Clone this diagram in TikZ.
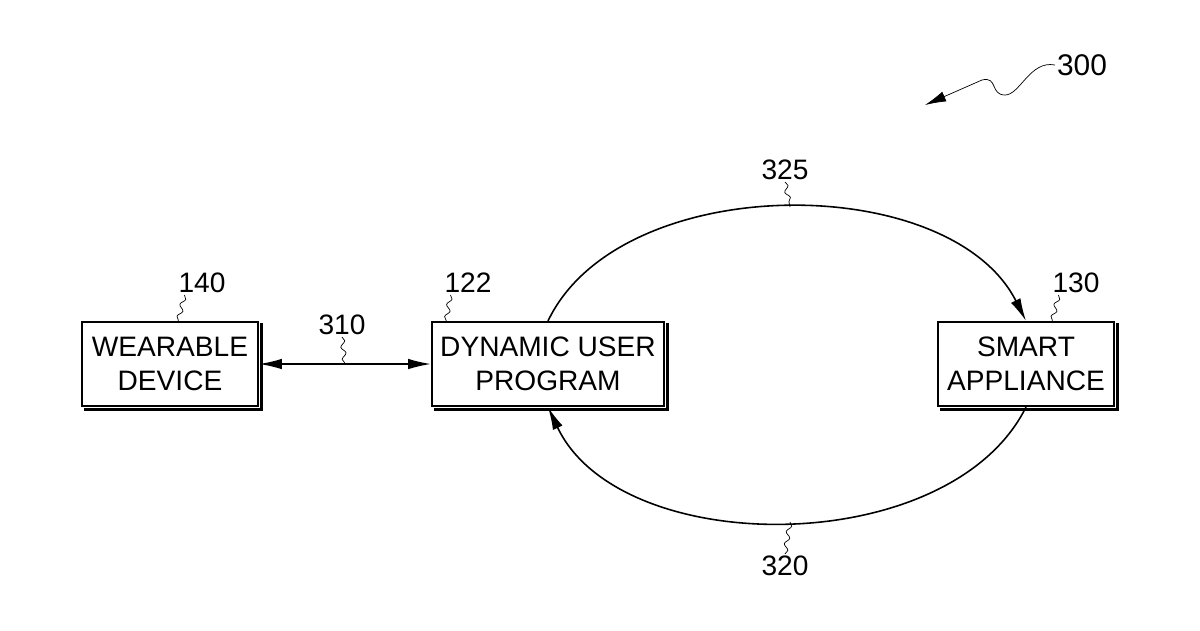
\documentclass[tikz,border=0pt]{standalone}
\usepackage{fontspec}
\setmainfont{Liberation Sans}
\usetikzlibrary{arrows.meta,decorations.pathmorphing,calc}

\tikzset{
    block/.style={draw=black, line width=1.2pt, minimum width=176\pgfxx, minimum height=84\pgfyy,
        align=center, inner sep=0pt, font=\fontsize{16}{19}\selectfont},
    numlbl/.style={font=\fontsize{16}{19}\selectfont, inner sep=1pt},
    squig/.style={draw, thin, decorate, decoration={snake, amplitude=1.3pt, segment length=7pt}},
    link/.style={draw, line width=0.9pt, -{Latex[length=13pt,width=6pt]}},
}
\newlength{\pgfxx}\setlength{\pgfxx}{0.02cm}
\newlength{\pgfyy}\setlength{\pgfyy}{0.02cm}

\begin{document}
\begin{tikzpicture}[x=0.02cm, y=-0.02cm]
            \useasboundingbox (0,0) rectangle (1200,630);

            % boxes
            \node[block] (wd) at (170,364) {WEARABLE\\DEVICE};
            \node[block, minimum width=232\pgfxx] (dup) at (548,364) {DYNAMIC USER\\PROGRAM};
            \node[block] (sa) at (1026,364) {SMART\\APPLIANCE};
            % shadow edges
            \foreach \b in {wd,dup,sa} {
                \draw[line width=1.4pt] ([xshift=2pt,yshift=-1.5pt]\b.south west) -- ([xshift=1.5pt,yshift=-1.5pt]\b.south east) -- ([xshift=1.5pt,yshift=-1pt]\b.north east);
            }

            % reference numbers
            \node[numlbl] (n140) at (202,283) {140};
            \node[numlbl] (n122) at (468,283) {122};
            \node[numlbl] (n130) at (1076,283) {130};
            \node[numlbl] (n310) at (342,325) {310};
            \node[numlbl] (n325) at (785,170) {325};
            \node[numlbl] (n320) at (785,566) {320};
            \node[numlbl, font=\fontsize{17}{20}\selectfont] (n300) at (1082,65) {300};

            \coordinate (t140) at (178,322);
            \coordinate (t122) at (446,322);
            \coordinate (t130) at (1052,322);
            \coordinate (t310) at (345,364);
            \coordinate (t325) at (790,207);
            \coordinate (t320) at (790,522);
            \coordinate (t300) at (925,105);

            \path[squig] (n140.south west) ++(8,0) -- (t140);
            \path[squig] (n122.south west) ++(8,0) -- (t122);
            \path[squig] (n130.south west) ++(8,0) -- (t130);
            \path[squig] (n310.south) -- (t310);
            \path[squig] (n325.south) -- (t325);
            \path[squig] (t320) -- (n320.north);

            % connectors
            \draw[line width=0.9pt, {Latex[length=13pt,width=6pt]}-{Latex[length=13pt,width=6pt]}] (wd) -- (dup);
            \draw[link] (dup.north) .. controls (620,170) and (950,170) .. (sa.north);
            \draw[link] (sa.south) .. controls (950,560) and (620,560) .. (dup.south);
            \draw[thin, -{Latex[length=12pt,width=6pt]}] (n300.west) .. controls (1030,60) and (1020,95) .. (1005,95)
                .. controls (990,95) and (998,76) .. (982,80) -- (t300);
        \end{tikzpicture}
\end{document}
